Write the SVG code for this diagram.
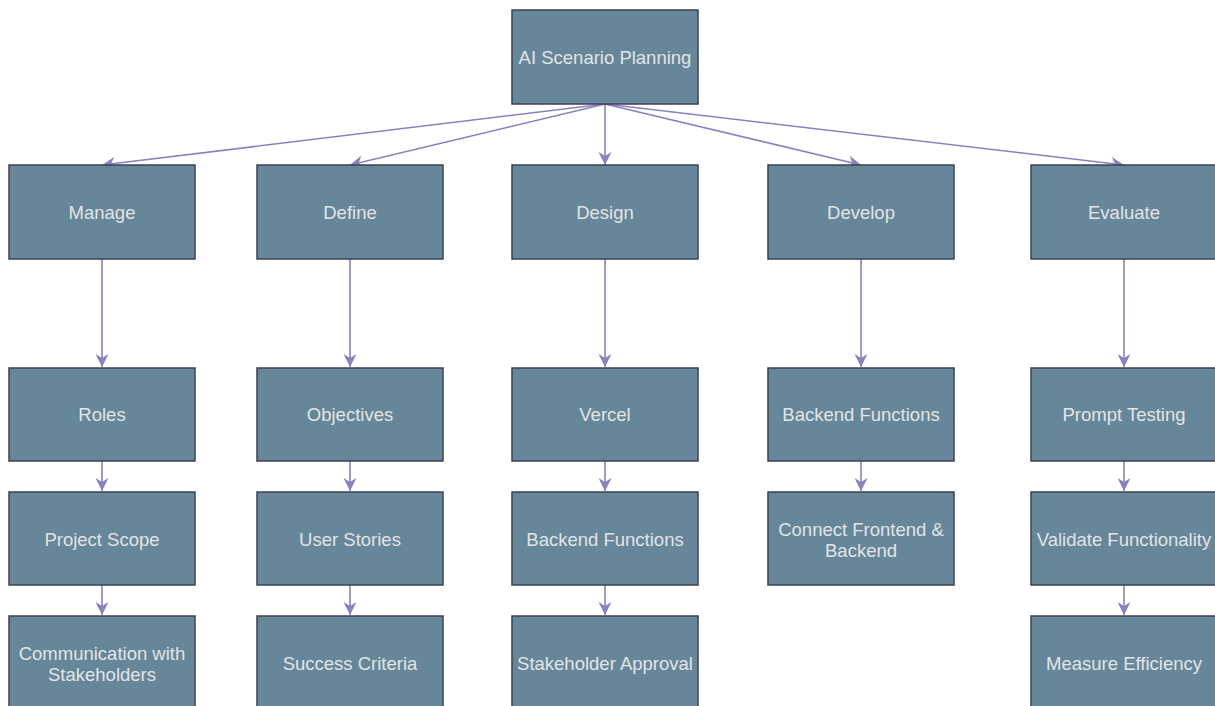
<svg xmlns="http://www.w3.org/2000/svg" width="1215" height="706" viewBox="0 0 1215 706">
  <style>
    .node rect { fill: #668699; stroke: #3d4152; stroke-width: 1.5; }
    .node text { fill: #e2e4e6; font-family: "Liberation Sans", Arial, sans-serif; font-size: 18.5px; text-anchor: middle; dominant-baseline: central; }
    .edge { stroke: #8a80c2; stroke-width: 1.6; fill: none; marker-end: url(#arrow); }
  </style>
  <defs>
    <marker id="arrow" viewBox="0 0 10 10" refX="10" refY="5" markerWidth="13" markerHeight="13" markerUnits="userSpaceOnUse" orient="auto">
      <path d="M0,0 L10,5 L0,10 L3,5 z" fill="#8a80c2"/>
    </marker>
  </defs>
  <rect width="1215" height="706" fill="#ffffff"/>

  <g id="connectors">
    <line class="edge" x1="605" y1="104" x2="102" y2="165"/>
    <line class="edge" x1="605" y1="104" x2="350" y2="165"/>
    <line class="edge" x1="605" y1="104" x2="605" y2="165"/>
    <line class="edge" x1="605" y1="104" x2="861" y2="165"/>
    <line class="edge" x1="605" y1="104" x2="1124" y2="165"/>

    <line class="edge" x1="102" y1="259" x2="102" y2="367"/>
    <line class="edge" x1="102" y1="461" x2="102" y2="491"/>
    <line class="edge" x1="102" y1="585" x2="102" y2="615"/>

    <line class="edge" x1="350" y1="259" x2="350" y2="367"/>
    <line class="edge" x1="350" y1="461" x2="350" y2="491"/>
    <line class="edge" x1="350" y1="585" x2="350" y2="615"/>

    <line class="edge" x1="605" y1="259" x2="605" y2="367"/>
    <line class="edge" x1="605" y1="461" x2="605" y2="491"/>
    <line class="edge" x1="605" y1="585" x2="605" y2="615"/>

    <line class="edge" x1="861" y1="259" x2="861" y2="367"/>
    <line class="edge" x1="861" y1="461" x2="861" y2="491"/>

    <line class="edge" x1="1124" y1="259" x2="1124" y2="367"/>
    <line class="edge" x1="1124" y1="461" x2="1124" y2="491"/>
    <line class="edge" x1="1124" y1="585" x2="1124" y2="615"/>
  </g>

  <g id="root" class="node"><rect x="512" y="10" width="186" height="94"/><text x="605" y="57">AI Scenario Planning</text></g>

  <g id="manage" class="node"><rect x="9" y="165" width="186" height="94"/><text x="102" y="212">Manage</text></g>
  <g id="define" class="node"><rect x="257" y="165" width="186" height="94"/><text x="350" y="212">Define</text></g>
  <g id="design" class="node"><rect x="512" y="165" width="186" height="94"/><text x="605" y="212">Design</text></g>
  <g id="develop" class="node"><rect x="768" y="165" width="186" height="94"/><text x="861" y="212">Develop</text></g>
  <g id="evaluate" class="node"><rect x="1031" y="165" width="186" height="94"/><text x="1124" y="212">Evaluate</text></g>

  <g id="roles" class="node"><rect x="9" y="368" width="186" height="93"/><text x="102" y="414">Roles</text></g>
  <g id="project-scope" class="node"><rect x="9" y="492" width="186" height="93"/><text x="102" y="539">Project Scope</text></g>
  <g id="communication" class="node"><rect x="9" y="616" width="186" height="93"/><text x="102" y="653">Communication with</text><text x="102" y="674">Stakeholders</text></g>

  <g id="objectives" class="node"><rect x="257" y="368" width="186" height="93"/><text x="350" y="414">Objectives</text></g>
  <g id="user-stories" class="node"><rect x="257" y="492" width="186" height="93"/><text x="350" y="539">User Stories</text></g>
  <g id="success-criteria" class="node"><rect x="257" y="616" width="186" height="93"/><text x="350" y="663">Success Criteria</text></g>

  <g id="vercel" class="node"><rect x="512" y="368" width="186" height="93"/><text x="605" y="414">Vercel</text></g>
  <g id="design-backend" class="node"><rect x="512" y="492" width="186" height="93"/><text x="605" y="539">Backend Functions</text></g>
  <g id="stakeholder-approval" class="node"><rect x="512" y="616" width="186" height="93"/><text x="605" y="663">Stakeholder Approval</text></g>

  <g id="develop-backend" class="node"><rect x="768" y="368" width="186" height="93"/><text x="861" y="414">Backend Functions</text></g>
  <g id="connect" class="node"><rect x="768" y="492" width="186" height="93"/><text x="861" y="529">Connect Frontend &amp;</text><text x="861" y="550">Backend</text></g>

  <g id="prompt-testing" class="node"><rect x="1031" y="368" width="186" height="93"/><text x="1124" y="414">Prompt Testing</text></g>
  <g id="validate" class="node"><rect x="1031" y="492" width="186" height="93"/><text x="1124" y="539">Validate Functionality</text></g>
  <g id="measure" class="node"><rect x="1031" y="616" width="186" height="93"/><text x="1124" y="663">Measure Efficiency</text></g>
</svg>
